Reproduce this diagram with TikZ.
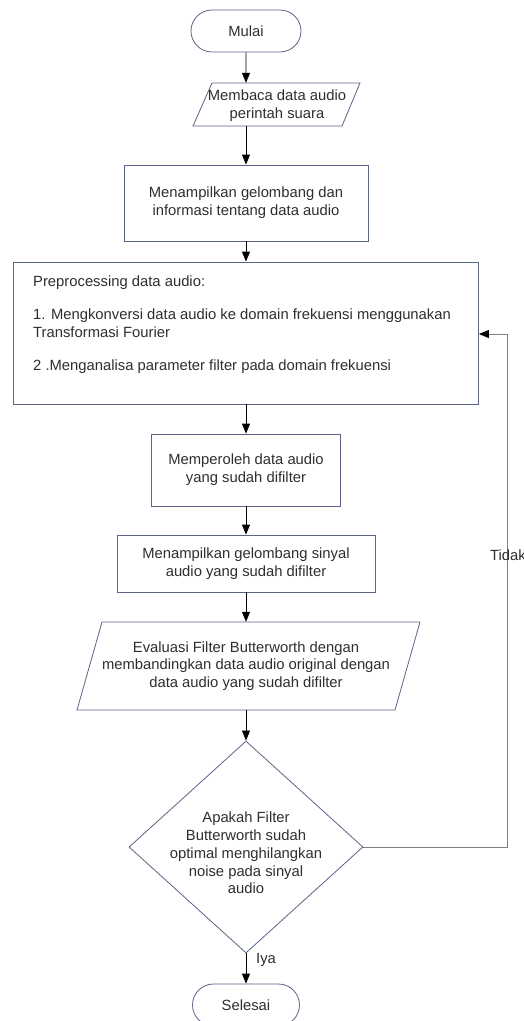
\documentclass[tikz,border=0pt]{standalone}
\usepackage{fontspec}
\setmainfont{Liberation Sans}
\usetikzlibrary{arrows.meta,shapes.geometric,shapes.misc}
\definecolor{shapecol}{HTML}{5A6485}
\definecolor{txtcol}{HTML}{2E2E2E}
\definecolor{fbcol}{HTML}{808080}
\begin{document}
\begin{tikzpicture}[x=1pt,y=-1pt,
  every node/.style={font=\fontsize{14.8pt}{17.8pt}\selectfont, text=txtcol},
  box/.style={draw=shapecol, line width=0.8pt, rectangle, inner sep=0pt, align=center},
  term/.style={draw=shapecol, line width=0.8pt, rounded rectangle, inner sep=0pt, minimum width=110pt, minimum height=42pt},
  io/.style={inner sep=0pt, align=center},
  outline/.style={draw=shapecol, line width=0.8pt},
  conn/.style={line width=0.8pt, -{Triangle[length=10pt,width=8pt]}},
  fb/.style={draw=fbcol, line width=0.8pt, -{Triangle[length=10pt,width=8pt,color=black]}},
  lbl/.style={inner sep=0pt}]
\useasboundingbox (0,0) rectangle (524,1021);
% nodes
\node[term] (mulai) at (246,31) {Mulai};
\node[io, minimum width=150pt, minimum height=43pt] (baca) at (246,104.5) {};
\draw[outline] (212,83) -- (360,83) -- (342,126) -- (193,126) -- cycle;
\node[lbl, align=center] (bacatext) at (277,106) {Membaca data audio\\perintah suara};
\node[box, minimum width=244pt, minimum height=76pt] (tampil) at (246,203) {Menampilkan gelombang dan\\informasi tentang data audio};
\node[box, minimum width=465pt, minimum height=142pt] (pre) at (246,333) {};
\node[lbl, anchor=west, align=left] (pretext) at (33,324.5) {Preprocessing data audio:\\[15.5pt]1. Mengkonversi data audio ke domain frekuensi menggunakan\\Transformasi Fourier\\[15.5pt]2 .Menganalisa parameter filter pada domain frekuensi};
\node[box, minimum width=189pt, minimum height=72pt] (oleh) at (246,470) {Memperoleh data audio\\yang sudah difilter};
\node[box, minimum width=258pt, minimum height=57pt] (tampil2) at (246,563.5) {Menampilkan gelombang sinyal\\audio yang sudah difilter};
\node[io, minimum width=250pt, minimum height=88pt] (eval) at (246,666) {Evaluasi Filter Butterworth dengan\\membandingkan data audio original dengan\\data audio yang sudah difilter};
\draw[outline] (102,622) -- (420,622) -- (395,710) -- (77,710) -- cycle;
\node[diamond, draw=shapecol, line width=0.8pt, minimum width=234pt, minimum height=212pt, inner sep=0pt] (dec) at (246,847) {};
\node[lbl, align=center] (dectext) at (246,853) {Apakah Filter\\Butterworth sudah\\optimal menghilangkan\\noise pada sinyal\\audio};
\node[term, minimum width=107pt] (selesai) at (246,1005) {Selesai};
% connectors
\draw[conn] (mulai) -- (baca);
\draw[conn] (baca) -- (tampil);
\draw[conn] (tampil) -- (pre);
\draw[conn] (pre) -- (oleh);
\draw[conn] (oleh) -- (tampil2);
\draw[conn] (tampil2) -- (eval);
\draw[conn] (eval) -- (dec);
\draw[conn] (dec) -- (selesai);
\coordinate (fbtop) at (507,334);
\draw[fb] (dec.east) -| (fbtop) -- (pre.east |- fbtop);
% labels
\node[lbl, anchor=west] (tidak) at (490,555) {Tidak};
\node[lbl, anchor=west] (iya) at (256,960) {Iya};
\end{tikzpicture}
\end{document}
